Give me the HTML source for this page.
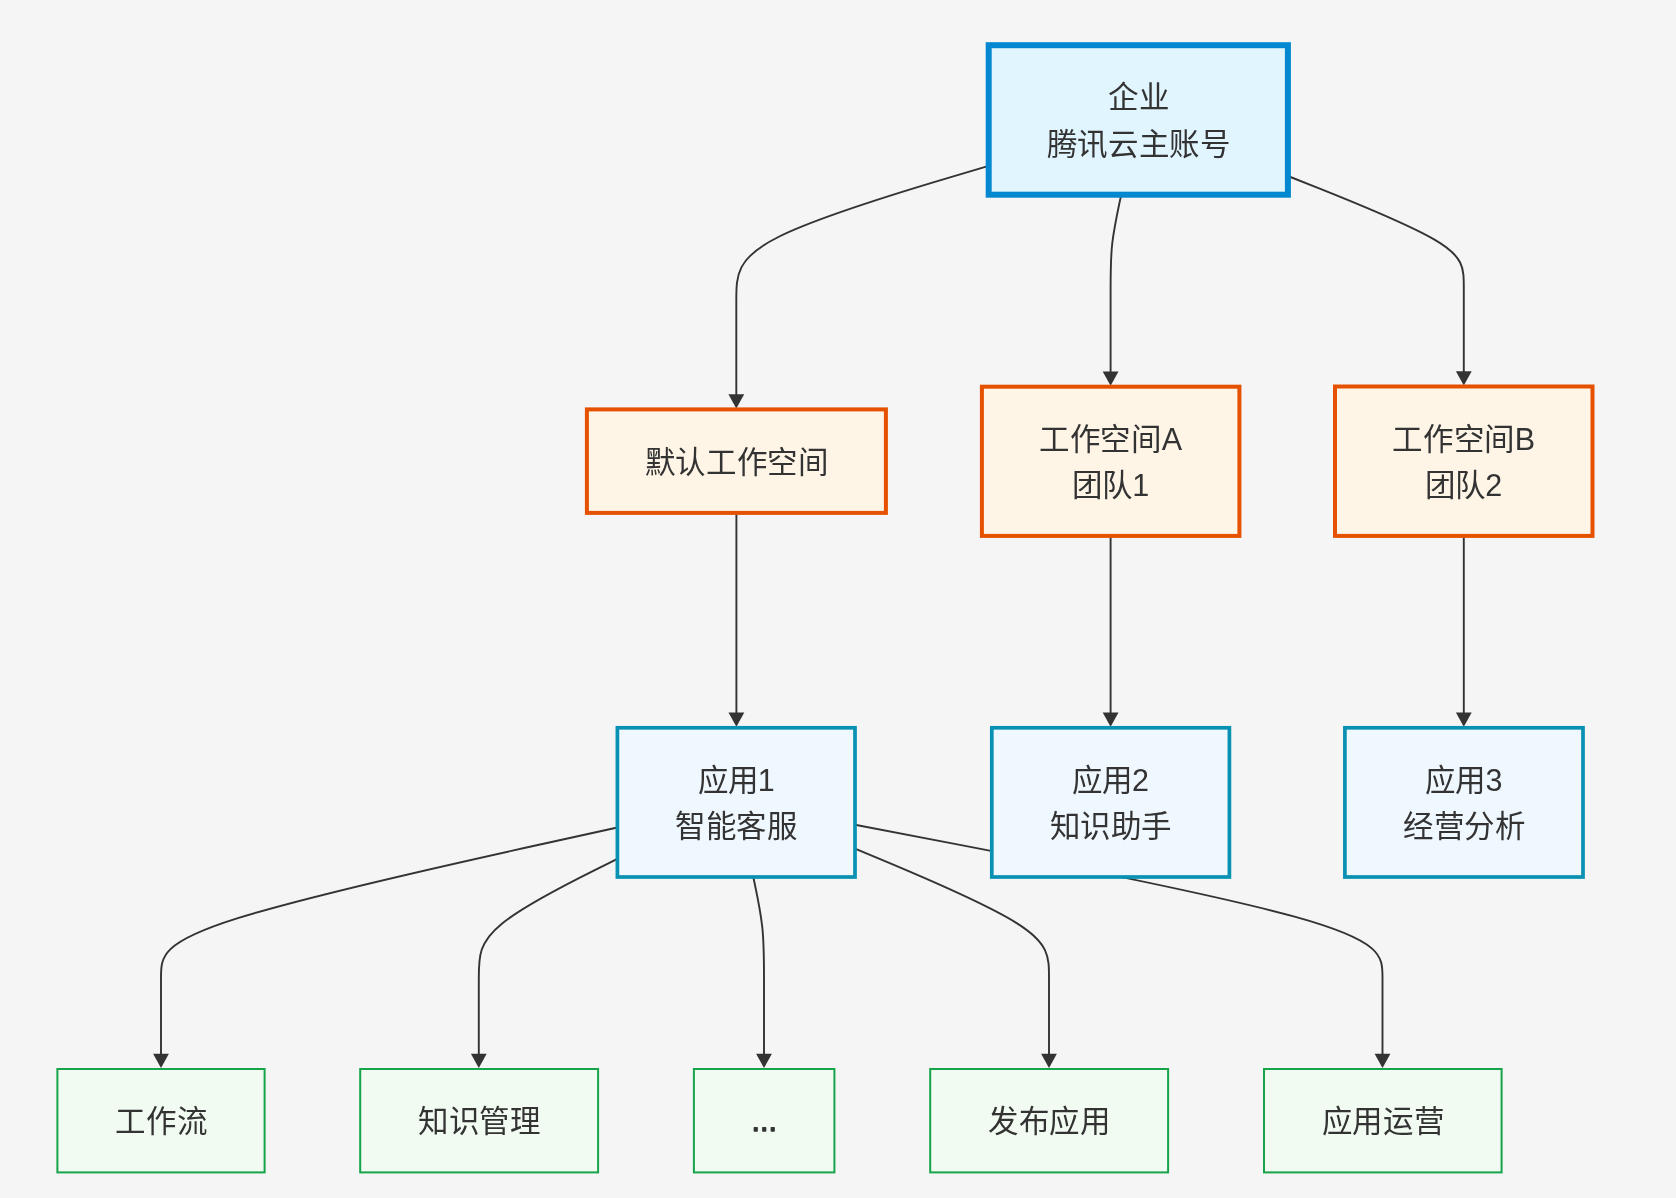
<!DOCTYPE html>
<html lang="zh-CN"><head><meta charset="utf-8"><style>
html,body{margin:0;padding:0;background:#f5f5f5;width:1676px;height:1198px;overflow:hidden}
svg{display:block;will-change:transform}
text{font-family:"Liberation Sans",sans-serif;font-size:30.5px;fill:#333}
</style></head><body>
<svg width="1676" height="1198" viewBox="0 0 1676 1198">
<path d="M988.70,165.90 L946.63,178.42 C904.57,190.93 820.43,215.97 778.37,236.98 C736.30,258.00 736.30,275.00 736.30,300.78 C736.30,326.57 736.30,361.13 736.30,378.42 L736.30,395.70" fill="none" stroke="#333" stroke-width="1.9"/><path d="M728.40,394.20 L736.30,408.40 L744.20,394.20 Z" fill="#333"/>
<path d="M1121.20,194.70 L1119.43,203.08 C1117.67,211.47 1114.13,228.23 1112.37,242.45 C1110.60,256.67 1110.60,268.33 1110.60,289.67 C1110.60,311.00 1110.60,342.00 1110.60,357.50 L1110.60,373.00" fill="none" stroke="#333" stroke-width="1.9"/><path d="M1102.70,371.50 L1110.60,385.70 L1118.50,371.50 Z" fill="#333"/>
<path d="M1287.90,176.00 L1317.22,187.67 C1346.53,199.33 1405.17,222.67 1434.48,239.67 C1463.80,256.67 1463.80,267.33 1463.80,288.47 C1463.80,309.60 1463.80,341.20 1463.80,357.00 L1463.80,372.80" fill="none" stroke="#333" stroke-width="1.9"/><path d="M1455.90,371.30 L1463.80,385.50 L1471.70,371.30 Z" fill="#333"/>
<path d="M736.40,512.90 L736.40,527.42 C736.40,541.93 736.40,570.97 736.40,593.82 C736.40,616.67 736.40,633.33 736.40,652.35 C736.40,671.37 736.40,692.73 736.40,703.42 L736.40,714.10" fill="none" stroke="#333" stroke-width="1.9"/><path d="M728.50,712.60 L736.40,726.80 L744.30,712.60 Z" fill="#333"/>
<path d="M1110.60,535.90 L1110.60,546.58 C1110.60,557.27 1110.60,578.63 1110.60,597.65 C1110.60,616.67 1110.60,633.33 1110.60,652.35 C1110.60,671.37 1110.60,692.73 1110.60,703.42 L1110.60,714.10" fill="none" stroke="#333" stroke-width="1.9"/><path d="M1102.70,712.60 L1110.60,726.80 L1118.50,712.60 Z" fill="#333"/>
<path d="M1463.80,535.90 L1463.80,546.58 C1463.80,557.27 1463.80,578.63 1463.80,597.65 C1463.80,616.67 1463.80,633.33 1463.80,652.35 C1463.80,671.37 1463.80,692.73 1463.80,703.42 L1463.80,714.10" fill="none" stroke="#333" stroke-width="1.9"/><path d="M1455.90,712.60 L1463.80,726.80 L1471.70,712.60 Z" fill="#333"/>
<path d="M617.40,827.50 L541.33,844.25 C465.27,861.00 313.13,894.50 237.07,918.42 C161.00,942.33 161.00,956.67 161.00,977.88 C161.00,999.10 161.00,1027.20 161.00,1041.25 L161.00,1055.30" fill="none" stroke="#333" stroke-width="1.9"/><path d="M153.10,1053.80 L161.00,1068.00 L168.90,1053.80 Z" fill="#333"/>
<path d="M617.40,858.90 L594.30,870.42 C571.20,881.93 525.00,904.97 501.90,923.65 C478.80,942.33 478.80,956.67 478.80,977.88 C478.80,999.10 478.80,1027.20 478.80,1041.25 L478.80,1055.30" fill="none" stroke="#333" stroke-width="1.9"/><path d="M470.90,1053.80 L478.80,1068.00 L486.70,1053.80 Z" fill="#333"/>
<path d="M753.30,877.00 L755.08,885.50 C756.87,894.00 760.43,911.00 762.22,926.67 C764.00,942.33 764.00,956.67 764.00,977.88 C764.00,999.10 764.00,1027.20 764.00,1041.25 L764.00,1055.30" fill="none" stroke="#333" stroke-width="1.9"/><path d="M756.10,1053.80 L764.00,1068.00 L771.90,1053.80 Z" fill="#333"/>
<path d="M855.00,848.60 L887.33,862.17 C919.67,875.73 984.33,902.87 1016.67,923.10 C1049.00,943.33 1049.00,956.67 1049.00,977.55 C1049.00,998.43 1049.00,1026.87 1049.00,1041.08 L1049.00,1055.30" fill="none" stroke="#333" stroke-width="1.9"/><path d="M1041.10,1053.80 L1049.00,1068.00 L1056.90,1053.80 Z" fill="#333"/>
<path d="M855.00,824.80 L942.92,841.67 C1030.83,858.53 1206.67,892.27 1294.58,916.63 C1382.50,941.00 1382.50,956.00 1382.50,977.55 C1382.50,999.10 1382.50,1027.20 1382.50,1041.25 L1382.50,1055.30" fill="none" stroke="#333" stroke-width="1.9"/><path d="M1374.60,1053.80 L1382.50,1068.00 L1390.40,1053.80 Z" fill="#333"/>
<rect x="988.70" y="45.20" width="299.20" height="149.50" fill="#e1f5fe" stroke="#0288d1" stroke-width="6.00"/>
<text x="1138.60" y="97.40" text-anchor="middle" dominant-baseline="central" letter-spacing="0.6">企业</text>
<text x="1138.60" y="143.70" text-anchor="middle" dominant-baseline="central" letter-spacing="0.6">腾讯云主账号</text>
<rect x="586.90" y="409.40" width="299.00" height="103.50" fill="#fef5e7" stroke="#e65100" stroke-width="4.00"/>
<text x="736.70" y="461.75" text-anchor="middle" dominant-baseline="central" letter-spacing="0.6">默认工作空间</text>
<rect x="981.90" y="386.70" width="257.50" height="149.20" fill="#fef5e7" stroke="#e65100" stroke-width="4.00"/>
<text x="1110.95" y="438.75" text-anchor="middle" dominant-baseline="central" letter-spacing="0.6">工作空间A</text>
<text x="1110.65" y="485.05" text-anchor="middle" dominant-baseline="central" letter-spacing="0">团队1</text>
<rect x="1335.00" y="386.50" width="257.50" height="149.40" fill="#fef5e7" stroke="#e65100" stroke-width="4.00"/>
<text x="1464.05" y="438.65" text-anchor="middle" dominant-baseline="central" letter-spacing="0.6">工作空间B</text>
<text x="1463.75" y="484.95" text-anchor="middle" dominant-baseline="central" letter-spacing="0">团队2</text>
<rect x="617.40" y="727.80" width="237.60" height="149.20" fill="#f0f8ff" stroke="#0891b2" stroke-width="3.70"/>
<text x="736.20" y="779.85" text-anchor="middle" dominant-baseline="central" letter-spacing="0">应用1</text>
<text x="736.50" y="826.15" text-anchor="middle" dominant-baseline="central" letter-spacing="0.6">智能客服</text>
<rect x="991.80" y="727.80" width="237.60" height="149.20" fill="#f0f8ff" stroke="#0891b2" stroke-width="3.70"/>
<text x="1110.60" y="779.85" text-anchor="middle" dominant-baseline="central" letter-spacing="0">应用2</text>
<text x="1110.90" y="826.15" text-anchor="middle" dominant-baseline="central" letter-spacing="0.6">知识助手</text>
<rect x="1344.90" y="727.80" width="238.10" height="149.20" fill="#f0f8ff" stroke="#0891b2" stroke-width="3.70"/>
<text x="1463.95" y="779.85" text-anchor="middle" dominant-baseline="central" letter-spacing="0">应用3</text>
<text x="1464.25" y="826.15" text-anchor="middle" dominant-baseline="central" letter-spacing="0.6">经营分析</text>
<rect x="57.40" y="1069.00" width="207.20" height="103.40" fill="#f1fbf2" stroke="#16a34a" stroke-width="2.00"/>
<text x="161.30" y="1121.30" text-anchor="middle" dominant-baseline="central" letter-spacing="0.6">工作流</text>
<rect x="360.20" y="1069.00" width="237.90" height="103.40" fill="#f1fbf2" stroke="#16a34a" stroke-width="2.00"/>
<text x="479.45" y="1121.30" text-anchor="middle" dominant-baseline="central" letter-spacing="0.6">知识管理</text>
<rect x="693.90" y="1069.00" width="140.50" height="103.40" fill="#f1fbf2" stroke="#16a34a" stroke-width="2.00"/>
<text x="764.15" y="1119.90" text-anchor="middle" dominant-baseline="central" style="stroke:#333;stroke-width:1.3;stroke-linejoin:round">...</text>
<rect x="930.20" y="1069.00" width="237.90" height="103.40" fill="#f1fbf2" stroke="#16a34a" stroke-width="2.00"/>
<text x="1049.45" y="1121.30" text-anchor="middle" dominant-baseline="central" letter-spacing="0.6">发布应用</text>
<rect x="1264.00" y="1069.00" width="237.60" height="103.40" fill="#f1fbf2" stroke="#16a34a" stroke-width="2.00"/>
<text x="1383.10" y="1121.30" text-anchor="middle" dominant-baseline="central" letter-spacing="0.6">应用运营</text>
</svg>
</body></html>
